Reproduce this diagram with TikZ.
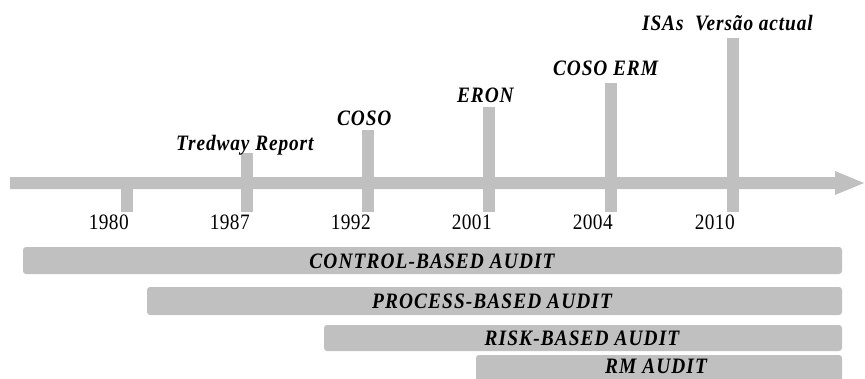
\documentclass[tikz,border=0pt]{standalone}
\usepackage{fontspec}
\setmainfont{Liberation Serif}
\newfontfamily\condserif[FakeStretch=0.88]{Liberation Serif}
\definecolor{bargray}{HTML}{C0C0C0}
\begin{document}
\begin{tikzpicture}[x=1pt,y=-1pt,
  tick/.style={fill=bargray},
  evlabel/.style={font=\condserif\fontsize{22}{24}\selectfont\bfseries\itshape\addfontfeature{LetterSpace=4}, inner sep=0pt, anchor=base west},
  yearlabel/.style={font=\condserif\fontsize{22}{24}\selectfont\addfontfeature{LetterSpace=2}, inner sep=0pt, anchor=base east},
  auditbar/.style={fill=bargray, rounded corners=3pt, draw=none, inner sep=0pt,
     font=\condserif\fontsize{22}{24}\selectfont\bfseries\itshape\addfontfeature{LetterSpace=5}}]
\useasboundingbox (0,0) rectangle (865,378);
% axis arrow
\fill[bargray] (10,177) -- (835,177) -- (835,171) -- (864,183) -- (835,195) -- (835,189) -- (10,189) -- cycle;
% ticks
\fill[tick] (121,189) rectangle (133,212);
\fill[tick] (241,153) rectangle (253,212);
\fill[tick] (362,130) rectangle (374,212);
\fill[tick] (483,107) rectangle (495,212);
\fill[tick] (605,83) rectangle (617,212);
\fill[tick] (727,38) rectangle (739,212);
% years
\node[yearlabel] (y1980) at (129,229) {1980};
\node[yearlabel] (y1987) at (250,229) {1987};
\node[yearlabel] (y1992) at (371,229) {1992};
\node[yearlabel] (y2001) at (492,229) {2001};
\node[yearlabel] (y2004) at (613,229) {2004};
\node[yearlabel] (y2010) at (735,229) {2010};
% event labels
\node[evlabel] (tredway) at (176,150) {Tredway Report};
\node[evlabel] (coso) at (337,125) {COSO};
\node[evlabel] (eron) at (457,102) {ERON};
\node[evlabel] (cosoerm) at (553,75) {COSO ERM};
\node[evlabel] (isas) at (642,30) {ISAs\ \ Versão actual};
% audit bars
\fill[auditbar] (23,247) rectangle (842,274);
\node[auditbar, fill=none] (control) at (432,261) {CONTROL-BASED AUDIT};
\fill[auditbar] (147,287) rectangle (842,315);
\node[auditbar, fill=none] (process) at (492,301) {PROCESS-BASED AUDIT};
\fill[auditbar] (324,325) rectangle (842,351);
\node[auditbar, fill=none] (risk) at (582,338) {RISK-BASED AUDIT};
\fill[auditbar] (476,355) rectangle (842,390);
\node[auditbar, fill=none] (rm) at (656,366.5) {RM AUDIT};
\end{tikzpicture}
\end{document}
